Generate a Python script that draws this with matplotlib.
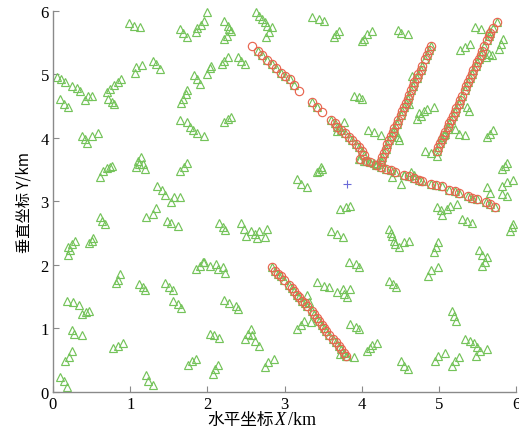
import numpy as np
import matplotlib
matplotlib.use("Agg")
import matplotlib.pyplot as plt

plt.rcParams['font.family'] = ['Liberation Serif', 'Noto Sans CJK SC']

# scattered stations (km)
stations = np.array([
    (0.99, 5.81), (1.05, 5.76), (1.12, 5.75),
    (1.64, 5.72), (1.68, 5.65), (1.73, 5.59), (1.85, 5.67), (1.87, 5.73),
    (1.92, 5.78), (1.95, 5.84), (1.99, 5.98),
    (0.05, 4.96), (0.10, 4.93), (0.15, 4.88), (0.25, 4.82), (0.31, 4.79), (0.35, 4.74),
    (0.09, 4.61), (0.14, 4.54), (0.19, 4.49),
    (0.41, 4.60), (0.45, 4.66), (0.50, 4.66),
    (0.70, 4.72), (0.74, 4.77), (0.79, 4.83), (0.84, 4.88), (0.88, 4.93),
    (0.71, 4.61), (0.76, 4.57), (0.79, 4.54),
    (1.06, 5.02), (1.08, 5.12), (1.15, 5.15),
    (1.29, 5.21), (1.34, 5.17), (1.39, 5.09),
    (1.83, 4.99), (1.86, 4.93), (1.90, 4.85), (1.99, 5.01),
    (1.66, 4.55), (1.68, 4.61), (1.72, 4.69), (1.74, 4.76),
    (1.65, 4.28), (1.73, 4.25), (1.77, 4.17), (1.81, 4.13), (1.86, 4.08), (1.95, 4.03),
    (0.37, 4.03), (0.41, 3.98), (0.44, 3.92), (0.50, 4.03), (0.58, 4.08),
    (0.61, 3.39), (0.65, 3.48), (0.70, 3.53), (0.74, 3.54), (0.77, 3.56),
    (1.07, 3.54), (1.10, 3.64), (1.14, 3.70), (1.16, 3.59), (1.19, 3.51), (1.11, 3.59),
    (1.64, 3.48), (1.70, 3.54), (1.74, 3.61),
    (1.35, 3.24), (1.41, 3.18), (1.45, 3.10), (1.53, 2.99), (1.57, 3.07), (1.64, 3.07),
    (2.22, 5.84), (2.26, 5.76), (2.28, 5.72), (2.31, 5.68), (2.25, 5.61), (2.22, 5.56),
    (2.63, 5.98), (2.67, 5.92), (2.71, 5.87), (2.74, 5.83), (2.77, 5.76), (2.83, 5.75),
    (2.80, 5.67), (2.76, 5.59),
    (3.35, 5.91), (3.45, 5.87), (3.51, 5.84),
    (3.64, 5.59), (3.66, 5.64), (3.70, 5.69),
    (2.19, 5.17), (2.22, 5.21), (2.26, 5.28), (2.39, 5.28), (2.44, 5.21), (2.48, 5.17),
    (2.03, 5.10), (2.05, 5.14),
    (2.22, 4.25), (2.26, 4.30), (2.31, 4.33),
    (3.90, 4.66), (3.96, 4.65), (4.00, 4.61),
    (3.77, 4.25), (3.70, 4.17), (3.68, 4.11),
    (3.45, 3.48), (3.47, 3.54), (3.48, 3.51), (3.42, 3.46),
    (3.16, 3.35), (3.21, 3.28), (3.29, 3.23),
    (4.00, 5.53), (4.03, 5.56), (4.07, 5.64), (4.13, 5.69),
    (4.47, 5.70), (4.51, 5.65), (4.60, 5.63),
    (5.46, 5.75), (5.54, 5.72), (5.64, 5.69),
    (5.27, 5.39), (5.34, 5.43), (5.40, 5.48),
    (5.83, 5.56), (5.80, 5.48), (5.77, 5.40),
    (5.60, 5.27), (5.64, 5.32), (5.68, 5.30),
    (4.65, 4.98),
    (4.71, 4.30), (4.76, 4.35), (4.80, 4.43), (4.84, 4.46), (4.93, 4.48), (4.74, 4.40),
    (4.61, 4.54), (5.36, 4.48), (5.38, 4.43),
    (4.08, 4.13), (4.15, 4.09), (4.24, 4.04),
    (4.43, 4.09), (4.46, 4.01), (4.48, 3.96),
    (5.02, 4.01), (5.08, 4.06), (5.12, 4.14), (5.21, 4.14), (5.25, 4.06), (5.34, 4.04),
    (5.62, 4.01), (5.66, 4.06), (5.70, 4.12),
    (4.82, 3.80), (4.89, 3.76), (4.97, 3.72),
    (3.96, 3.67), (4.03, 3.64), (4.09, 3.63), (4.15, 3.60), (4.20, 3.59), (4.26, 3.62),
    (4.39, 3.39), (4.50, 3.28), (4.54, 3.42), (4.63, 3.46), (4.67, 3.41),
    (5.81, 3.51), (5.85, 3.56), (5.88, 3.60),
    (5.81, 3.25), (5.88, 3.30), (5.96, 3.33), (5.62, 3.22), (5.66, 3.14), (5.81, 3.12), (5.88, 3.09),
    (4.97, 2.91), (5.02, 2.86), (5.04, 2.78), (5.10, 2.88), (5.14, 2.93), (5.23, 2.96),
    (3.72, 2.88), (3.79, 2.91), (3.85, 2.93),
    (5.29, 2.72), (5.36, 2.69), (5.42, 2.66),
    (5.96, 2.65), (5.94, 2.59), (5.92, 2.54),
    (4.35, 2.57), (4.37, 2.50), (4.39, 2.45), (4.41, 2.38), (4.43, 2.33), (4.48, 2.29),
    (4.54, 2.36), (4.61, 2.38),
    (4.93, 2.20), (4.96, 2.28), (4.98, 2.36),
    (5.51, 2.23), (5.56, 2.16), (5.62, 2.12), (5.59, 2.04), (5.55, 1.99),
    (4.86, 1.83), (4.90, 1.92), (4.98, 1.97),
    (4.35, 1.74), (4.40, 1.70), (4.44, 1.65),
    (5.16, 1.28), (5.19, 1.20), (5.22, 1.12),
    (4.07, 0.65), (4.10, 0.70), (4.13, 0.74), (4.20, 0.77),
    (5.34, 0.83), (5.40, 0.81), (5.45, 0.77), (5.49, 0.71), (5.47, 0.57), (5.53, 0.65), (5.62, 0.68),
    (4.50, 0.49), (4.54, 0.41), (4.60, 0.36),
    (4.95, 0.49), (4.99, 0.57), (5.07, 0.61),
    (5.17, 0.41), (5.21, 0.49), (5.25, 0.55),
    (2.15, 2.66), (2.20, 2.59), (2.23, 2.55),
    (2.43, 2.66), (2.47, 2.57), (2.50, 2.45), (2.56, 2.54), (2.61, 2.49), (2.64, 2.42),
    (2.67, 2.54), (2.74, 2.44), (2.77, 2.57),
    (3.60, 2.54), (3.68, 2.49), (3.75, 2.44),
    (1.96, 2.04), (2.03, 1.99), (2.11, 2.02), (2.13, 1.94), (2.20, 1.96), (2.23, 1.87),
    (3.83, 2.04), (3.92, 2.02), (3.96, 1.96),
    (3.42, 1.73), (3.51, 1.67), (3.57, 1.66),
    (3.68, 1.57), (3.75, 1.62), (3.77, 1.54), (3.81, 1.49), (3.85, 1.62),
    (2.22, 1.45), (2.28, 1.40), (2.37, 1.36), (2.39, 1.31),
    (3.29, 1.52), (3.32, 1.41),
    (3.16, 0.99), (3.21, 1.06), (3.25, 1.12), (3.34, 1.10),
    (3.85, 1.07), (3.92, 1.03), (3.96, 0.99),
    (2.03, 0.92), (2.09, 0.89), (2.15, 0.85),
    (2.48, 0.83), (2.52, 0.91), (2.56, 0.99), (2.61, 0.81), (2.67, 0.73), (2.58, 0.89),
    (3.72, 0.60), (3.81, 0.57), (3.90, 0.55),
    (2.74, 0.39), (2.78, 0.47), (2.86, 0.52),
    (2.07, 0.28), (2.10, 0.36), (2.13, 0.43),
    (0.61, 2.75), (0.63, 2.70), (0.67, 2.65),
    (1.21, 2.76), (1.29, 2.80), (1.33, 2.90),
    (1.47, 2.69), (1.53, 2.66), (1.62, 2.62),
    (0.20, 2.15), (0.22, 2.23), (0.24, 2.33), (0.28, 2.38), (0.20, 2.28),
    (0.46, 2.34), (0.50, 2.38), (0.52, 2.43),
    (1.85, 1.94), (1.90, 1.99), (1.94, 2.04),
    (0.82, 1.71), (0.84, 1.76), (0.87, 1.86),
    (1.11, 1.70), (1.16, 1.65), (1.19, 1.61),
    (1.45, 1.71), (1.50, 1.65), (1.56, 1.60),
    (0.18, 1.44), (0.26, 1.41), (0.34, 1.37),
    (0.37, 1.23), (0.43, 1.26), (0.47, 1.28),
    (1.55, 1.44), (1.62, 1.39), (1.66, 1.32),
    (0.24, 0.97), (0.27, 0.91), (0.37, 0.89),
    (0.78, 0.70), (0.84, 0.73), (0.91, 0.77),
    (0.15, 0.49), (0.21, 0.55), (0.24, 0.65),
    (1.75, 0.43), (1.80, 0.49), (1.85, 0.52),
    (0.09, 0.23), (0.14, 0.17), (0.18, 0.08),
    (1.20, 0.26), (1.23, 0.17), (1.29, 0.11),
])

# stations picked out along the fault traces
fault_nw = np.array([
    (2.65, 5.37), (2.71, 5.30), (2.77, 5.23), (2.83, 5.17), (2.89, 5.10),
    (2.95, 5.03), (3.01, 4.98), (3.07, 4.93), (3.12, 4.83),
    (3.35, 4.57), (3.42, 4.49),
    (3.60, 4.28), (3.65, 4.23), (3.68, 4.18), (3.73, 4.13), (3.78, 4.07),
    (3.83, 4.01), (3.87, 3.96), (3.92, 3.91), (3.96, 3.85), (4.00, 3.79), (4.03, 3.73),
])
fault_e = np.array([
    (3.98, 3.67), (4.05, 3.64), (4.11, 3.62), (4.18, 3.57), (4.24, 3.54), (4.31, 3.51),
    (4.37, 3.50), (4.43, 3.47), (4.54, 3.42), (4.61, 3.40), (4.67, 3.37), (4.74, 3.34),
    (4.78, 3.32), (4.90, 3.28), (4.96, 3.26), (5.03, 3.24), (5.13, 3.18), (5.20, 3.17),
    (5.26, 3.14), (5.37, 3.09), (5.43, 3.06), (5.49, 3.04), (5.60, 2.99), (5.66, 2.96),
    (5.72, 2.92),
])
fault_ne1 = np.array([
    (4.24, 3.64), (4.26, 3.70), (4.28, 3.77), (4.31, 3.83), (4.33, 3.90), (4.35, 3.96),
    (4.38, 4.03), (4.40, 4.09), (4.42, 4.16), (4.45, 4.22), (4.47, 4.29), (4.50, 4.36),
    (4.52, 4.42), (4.54, 4.49), (4.57, 4.55), (4.59, 4.62), (4.61, 4.68), (4.64, 4.75),
    (4.66, 4.81), (4.68, 4.88), (4.71, 4.94), (4.73, 5.01), (4.76, 5.07), (4.78, 5.13),
    (4.82, 5.24), (4.84, 5.31), (4.87, 5.38), (4.89, 5.45),
])
fault_ne2 = np.array([
    (4.97, 3.80), (4.99, 3.86), (5.01, 3.92), (5.04, 3.98), (5.06, 4.04), (5.08, 4.10),
    (5.11, 4.17), (5.13, 4.23), (5.15, 4.29), (5.18, 4.35), (5.20, 4.41), (5.22, 4.47),
    (5.25, 4.53), (5.27, 4.60), (5.29, 4.66), (5.33, 4.76), (5.35, 4.82), (5.37, 4.88),
    (5.40, 4.94), (5.42, 5.00), (5.44, 5.07), (5.47, 5.13), (5.49, 5.19), (5.51, 5.25),
    (5.54, 5.31), (5.56, 5.37), (5.58, 5.44), (5.62, 5.54), (5.64, 5.60), (5.66, 5.66),
    (5.70, 5.73), (5.75, 5.82),
])
fault_s = np.array([
    (2.84, 1.96), (2.87, 1.91), (2.91, 1.86), (2.95, 1.82), (2.99, 1.77), (3.06, 1.69),
    (3.09, 1.63), (3.12, 1.59), (3.16, 1.53), (3.19, 1.49), (3.23, 1.44), (3.26, 1.40),
    (3.29, 1.35), (3.35, 1.28), (3.38, 1.22), (3.42, 1.17), (3.45, 1.11), (3.48, 1.06),
    (3.51, 1.01), (3.54, 0.96), (3.57, 0.90), (3.63, 0.83), (3.66, 0.78), (3.70, 0.72),
    (3.73, 0.67), (3.77, 0.62), (3.79, 0.57),
])
# fault points with no station under them
fault_only = np.array([(2.58, 5.44), (3.19, 4.74), (3.48, 4.41)])

source = (3.81, 3.28)

faults = np.vstack([fault_nw, fault_e, fault_ne1, fault_ne2, fault_s])
all_stations = np.vstack([stations, faults])
circles = np.vstack([faults, fault_only])

fig = plt.figure(figsize=(5.19, 4.35), dpi=100)
ax = fig.add_axes([0.1021, 0.0966, 0.893, 0.876])

ax.plot(all_stations[:, 0], all_stations[:, 1], '^', ms=6, mfc='none',
        mec='#74c35a', mew=0.85, ls='none', clip_on=False)
ax.plot(circles[:, 0], circles[:, 1], 'o', ms=6, mfc='none',
        mec='#e8654f', mew=0.85, ls='none', clip_on=False)
ax.plot(source[0], source[1], '+', ms=6, mec='#6a6ad8', mew=0.8, clip_on=False)

ax.set_xlim(0, 6)
ax.set_ylim(0, 6)
ax.set_xticks(range(7))
ax.set_yticks(range(7))
for s in ['top', 'right']:
    ax.spines[s].set_visible(False)
for s in ['left', 'bottom']:
    ax.spines[s].set_color('#8a8a8a')
    ax.spines[s].set_linewidth(1.0)
ax.tick_params(direction='in', length=4, color='#8a8a8a', labelsize=12, pad=3)

# x label: Chinese text, italic X, then unit
ly = -0.072
ax.text(0.476, ly, '水平坐标', transform=ax.transAxes, ha='right', va='center',
        fontsize=12, family=['Noto Sans CJK SC'])
ax.text(0.478, ly, 'X', transform=ax.transAxes, ha='left', va='center',
        fontsize=13, family=['Liberation Serif'], style='italic')
ax.text(0.506, ly, '/km', transform=ax.transAxes, ha='left', va='center',
        fontsize=13, family=['Liberation Serif'])
ax.set_ylabel('垂直坐标 Y/km', fontsize=11, family=['Noto Sans CJK SC'], labelpad=6)

fig.savefig('out.png', dpi=100)
